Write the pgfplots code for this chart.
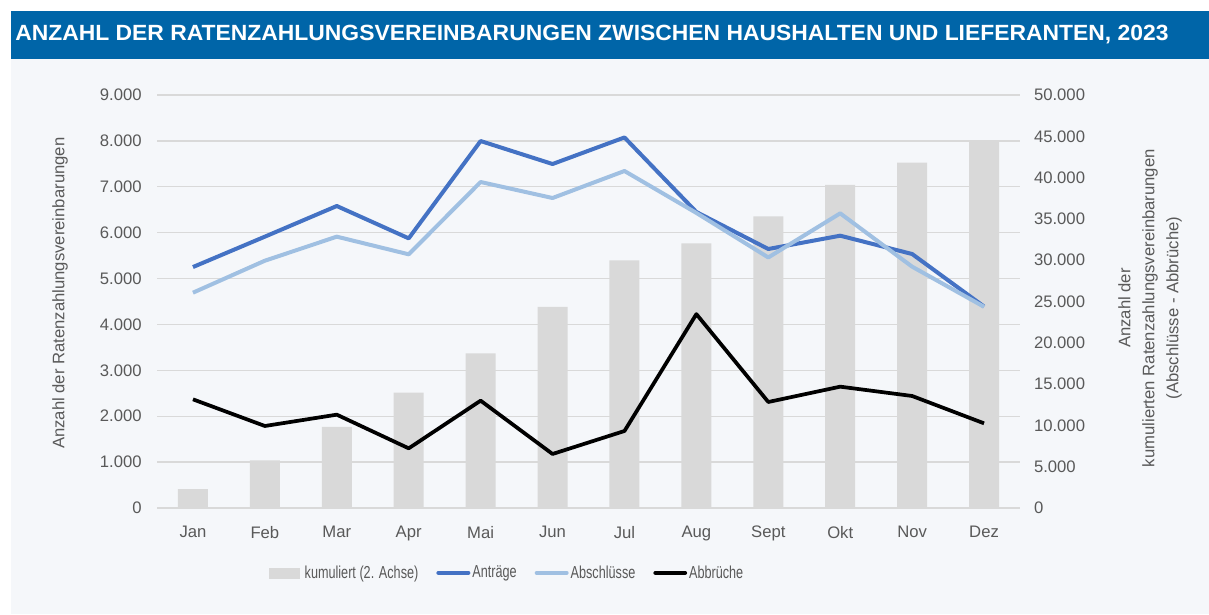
\documentclass[border=0pt]{standalone}
\usepackage{pgfplots}
\pgfplotsset{compat=1.18}
\usepackage{fontspec}
\setmainfont{Liberation Sans}
\newfontfamily\legfont[FakeStretch=0.73]{Liberation Sans}
\newfontfamily\titlefont[FakeStretch=1.04]{Liberation Sans}

\definecolor{titleblue}{RGB}{0,101,168}
\definecolor{bgcol}{RGB}{245,247,250}
\definecolor{antcol}{RGB}{68,114,196}
\definecolor{abscol}{RGB}{160,192,226}
\definecolor{barcol}{RGB}{217,217,217}
\definecolor{gridcol}{RGB}{217,217,217}
\definecolor{txtgray}{RGB}{89,89,89}

\pgfplotsset{
  base/.style={
    at={(117.75pt,79.5pt)}, anchor=south west,
    scale only axis, width=647.25pt, height=309.75pt,
    xmin=-0.5, xmax=11.5,
    major tick length=0pt,
    scaled y ticks=false,
    tick label style={font=\fontsize{12.5}{15}\selectfont, text=txtgray},
    /pgf/number format/.cd, 1000 sep={.}, assume math mode=true,
  },
}

\begin{document}
\begin{tikzpicture}
\fill[white] (0pt,0pt) rectangle (906.75pt,460.5pt);
\fill[bgcol] (8.25pt,0pt) rectangle (906.75pt,416.25pt);
\fill[titleblue] (8.25pt,416.25pt) rectangle (906.75pt,452.25pt);
\node[anchor=west, text=white, font=\titlefont\bfseries\fontsize{16.5}{18}\selectfont, inner sep=0pt]
  at (11.25pt,434.25pt) {ANZAHL DER RATENZAHLUNGSVEREINBARUNGEN ZWISCHEN HAUSHALTEN UND LIEFERANTEN, 2023};

% left scale, grid and x labels
\begin{axis}[base,
  ymin=0, ymax=9000, ytick={0,1000,...,9000},
  ymajorgrids, grid style={gridcol, line width=1pt},
  axis x line*=bottom, axis y line*=left,
  x axis line style={gridcol, line width=1pt, -},
  y axis line style={draw=none},
  xtick={0,...,11},
  xticklabels={Jan,Feb,Mar,Apr,Mai,Jun,Jul,Aug,Sept,Okt,Nov,Dez},
  xticklabel style={yshift=-10pt},
  yticklabel style={xshift=-8pt},
  ylabel={Anzahl der Ratenzahlungsvereinbarungen},
  ylabel style={at={(axis description cs:-0.1124,0.52)}, anchor=center,
    font=\fontsize{12.5}{15}\selectfont, text=txtgray},
]
\end{axis}

% cumulative bars on right scale
\begin{axis}[base,
  ymin=0, ymax=50000, ytick={0,5000,...,50000},
  axis y line*=right, axis x line=none,
  y axis line style={draw=none},
  yticklabel style={anchor=west, xshift=7pt},
  ylabel={Anzahl der\\kumulierten Ratenzahlungsvereinbarungen\\(Abschlüsse - Abbrüche)},
  ylabel style={at={(axis description cs:1.1506,0.484)}, anchor=center,
    align=center, font=\fontsize{12.5}{18}\selectfont, text=txtgray},
]
\addplot[ybar, bar width=0.417, bar shift=0pt, fill=barcol, draw=none] coordinates {
(0,2300)(1,5770)(2,9810)(3,13960)(4,18730)(5,24335)(6,29990)(7,32050)(8,35320)(9,39110)(10,41810)(11,44310)
};
\end{axis}

% lines on left scale
\begin{axis}[base,
  ymin=0, ymax=9000, hide axis,
  legend columns=4,
  legend style={at={(axis description cs:0.406,-0.157)}, anchor=center,
    draw=none, fill=none, font=\legfont\fontsize{13}{15}\selectfont, text=txtgray,
    /tikz/every even column/.append style={column sep=12pt},
    nodes={inner xsep=1.5pt}},
  legend image code/.code={\draw[#1, line cap=round] (0pt,0pt) -- (22.5pt,0pt);},
]
\addlegendimage{legend image code/.code={\fill[barcol] (0pt,-3.75pt) rectangle (22.5pt,3.75pt);}}
\addlegendentry{\hspace{2pt}kumuliert (2. Achse)}
\addplot[antcol, line width=3pt, line join=round] coordinates {
(0,5251)(1,5913)(2,6581)(3,5876)(4,7997)(5,7496)(6,8075)(7,6450)(8,5644)(9,5934)(10,5535)(11,4390)
};
\addlegendentry{Anträge}
\addplot[abscol, line width=3pt, line join=round] coordinates {
(0,4692)(1,5389)(2,5913)(3,5528)(4,7104)(5,6755)(6,7344)(7,6430)(8,5460)(9,6421)(10,5259)(11,4385)
};
\addlegendentry{Abschlüsse}
\addplot[black, line width=2.8pt, line join=round] coordinates {
(0,2368)(1,1787)(2,2034)(3,1300)(4,2339)(5,1177)(6,1678)(7,4225)(8,2310)(9,2644)(10,2441)(11,1845)
};
\addlegendentry{Abbrüche}
\end{axis}
\end{tikzpicture}
\end{document}
